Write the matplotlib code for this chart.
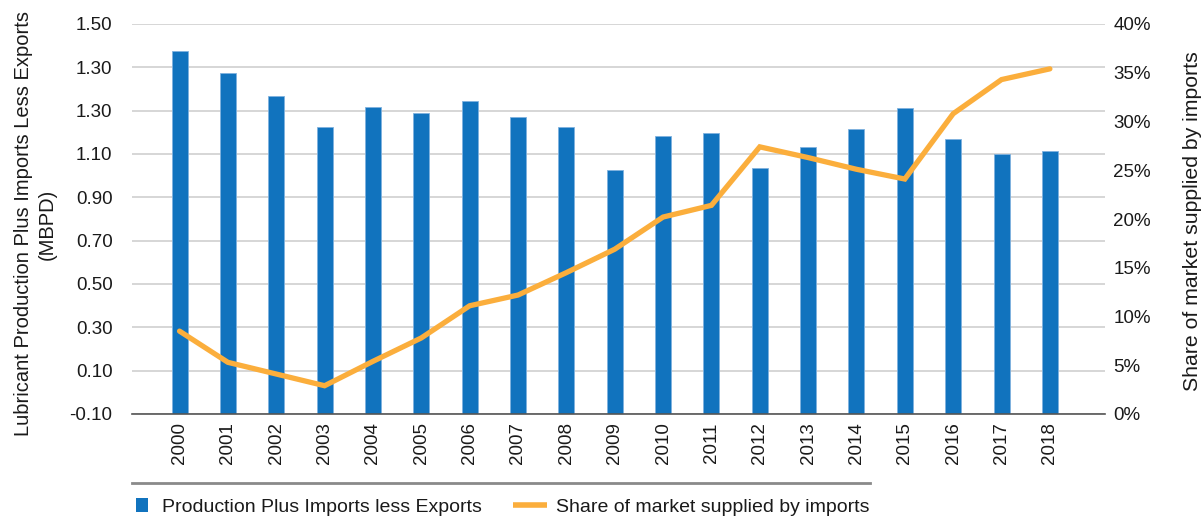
import matplotlib
matplotlib.use("Agg")
import matplotlib.pyplot as plt
from matplotlib.patches import Rectangle
from matplotlib.lines import Line2D
import numpy as np

plt.rcParams['font.family'] = ['Liberation Sans', 'DejaVu Sans']

years = ["2000", "2001", "2002", "2003", "2004", "2005", "2006", "2007", "2008", "2009",
         "2010", "2011", "2012", "2013", "2014", "2015", "2016", "2017", "2018"]
supply = [1.388, 1.298, 1.205, 1.079, 1.161, 1.134, 1.183, 1.120, 1.079, 0.900,
          1.042, 1.052, 0.909, 0.994, 1.070, 1.154, 1.028, 0.967, 0.980]
import_share = [8.5, 5.3, 4.1, 2.9, 5.4, 7.8, 11.1, 12.2, 14.5, 16.9,
                20.2, 21.4, 27.4, 26.3, 25.1, 24.1, 30.8, 34.3, 35.4]
left_tick_labels = ["-0.10", "0.10", "0.30", "0.50", "0.70", "0.90", "1.10", "1.30", "1.30", "1.50"]
right_tick_values = [0, 5, 10, 15, 20, 25, 30, 35, 40]
legend_labels = ["Production Plus Imports less Exports", "Share of market supplied by imports"]

bar_color = "#1173BE"
line_color = "#FBAE3C"
text_color = "#1a1a1a"

W, H = 1202, 516
fig = plt.figure(figsize=(W / 100, H / 100), dpi=100)
ax = fig.add_axes([132 / W, (H - 414) / H, (1105 - 132) / W, (414 - 24) / H])

x = np.arange(len(years))
base = -0.10
ax.bar(x, [v - base for v in supply], bottom=base, width=0.33, color=bar_color,
       edgecolor="#7fb2df", linewidth=0.6, zorder=3)

ymin, ymax = -0.10, 1.50
ax.set_ylim(ymin, ymax)
ax.set_xlim(-0.983, 19.14)
left_ticks = np.linspace(ymin, ymax, len(left_tick_labels))
ax.set_yticks(left_ticks)
ax.set_yticklabels(left_tick_labels)
ax.yaxis.grid(True, color="#d0d0d0", linewidth=1.2, zorder=0)
ax.set_axisbelow(True)
ax.set_xticks(x)
ax.set_xticklabels(years, rotation=90)
ax.tick_params(axis="y", length=0, pad=14, labelsize=13.5, labelcolor=text_color)
ax.tick_params(axis="x", length=0, pad=6, labelsize=13.5, labelcolor=text_color)
for s in ["top", "right", "left"]:
    ax.spines[s].set_visible(False)
ax.spines["bottom"].set_color("#555555")
ax.spines["bottom"].set_linewidth(1.2)
ax.spines["bottom"].set_zorder(4)

ax2 = ax.twinx()
ax2.plot(x, import_share, color=line_color, linewidth=3.8, solid_joinstyle="miter",
         solid_capstyle="round", zorder=5)
ax2.set_ylim(0, 40)
ax2.set_yticks(right_tick_values)
ax2.set_yticklabels([f"{v}%" for v in right_tick_values])
ax2.tick_params(axis="y", length=0, pad=6, labelsize=13.5, labelcolor=text_color)
for s in ["top", "right", "left", "bottom"]:
    ax2.spines[s].set_visible(False)

# axis titles
fig.text(35 / W, (H - 224) / H, "Lubricant Production Plus Imports Less Exports\n(MBPD)",
         rotation=90, ha="center", va="center", fontsize=14.5, color=text_color,
         linespacing=1.3, multialignment="center")
fig.text(1193 / W, (H - 221) / H, "Share of market supplied by imports",
         rotation=90, ha="center", va="center", fontsize=15.3, color=text_color)

# separator line above legend
fig.add_artist(Line2D([132 / W, 870 / W], [(H - 482.5) / H] * 2, color="#8a8a8a",
                      linewidth=2.0, transform=fig.transFigure))

# legend
fig.add_artist(Rectangle((136 / W, (H - 512) / H), 12 / W, 14 / H, facecolor=bar_color,
                         edgecolor="none", transform=fig.transFigure))
fig.text(162.5 / W, (H - 511.7) / H, legend_labels[0], ha="left", va="baseline",
         fontsize=14, color=text_color)
fig.add_artist(Line2D([513 / W, 547 / W], [(H - 505) / H] * 2, color=line_color,
                      linewidth=4, solid_capstyle="butt", transform=fig.transFigure))
fig.text(556.5 / W, (H - 511.7) / H, legend_labels[1], ha="left", va="baseline",
         fontsize=14, color=text_color)

fig.savefig("out.png", dpi=100)
